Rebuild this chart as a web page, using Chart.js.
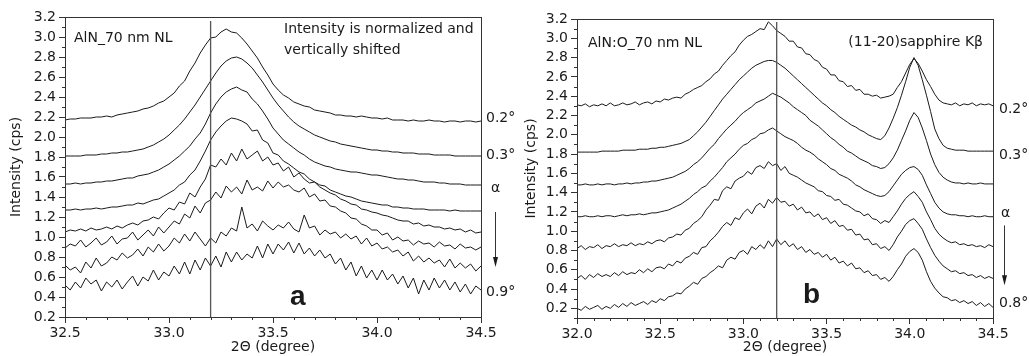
<!DOCTYPE html>
<html>
<head>
<meta charset="utf-8">
<script src="https://cdn.jsdelivr.net/npm/chart.js@4.4.0/dist/chart.umd.min.js"></script>
<style>
  html, body { margin: 0; padding: 0; background: #fff; }
  #wrap { position: relative; width: 1029px; height: 356px; }
  canvas { position: absolute; top: 0; }
</style>
</head>
<body>
<div id="wrap">
  <canvas id="chartA" width="515" height="356" style="left:0"></canvas>
  <canvas id="chartB" width="514" height="356" style="left:515px"></canvas>
</div>
<script>
// 2theta grid of the scans (degree)
const thetaA = [
  32.5,32.525,32.55,32.575,32.6,32.625,32.65,32.675,32.7,32.725,
  32.75,32.775,32.8,32.825,32.85,32.875,32.9,32.925,32.95,32.975,
  33.0,33.025,33.05,33.075,33.1,33.125,33.15,33.175,33.2,33.225,
  33.25,33.275,33.3,33.325,33.35,33.375,33.4,33.425,33.45,33.475,
  33.5,33.525,33.55,33.575,33.6,33.625,33.65,33.675,33.7,33.725,
  33.75,33.775,33.8,33.825,33.85,33.875,33.9,33.925,33.95,33.975,
  34.0,34.025,34.05,34.075,34.1,34.125,34.15,34.175,34.2,34.225,
  34.25,34.275,34.3,34.325,34.35,34.375,34.4,34.425,34.45,34.475,
  34.5
];
const thetaB = [
  32.0,32.025,32.05,32.075,32.1,32.125,32.15,32.175,32.2,32.225,
  32.25,32.275,32.3,32.325,32.35,32.375,32.4,32.425,32.45,32.475,
  32.5,32.525,32.55,32.575,32.6,32.625,32.65,32.675,32.7,32.725,
  32.75,32.775,32.8,32.825,32.85,32.875,32.9,32.925,32.95,32.975,
  33.0,33.025,33.05,33.075,33.1,33.125,33.15,33.175,33.2,33.225,
  33.25,33.275,33.3,33.325,33.35,33.375,33.4,33.425,33.45,33.475,
  33.5,33.525,33.55,33.575,33.6,33.625,33.65,33.675,33.7,33.725,
  33.75,33.775,33.8,33.825,33.85,33.875,33.9,33.925,33.95,33.975,
  34.0,34.025,34.05,34.075,34.1,34.125,34.15,34.175,34.2,34.225,
  34.25,34.275,34.3,34.325,34.35,34.375,34.4,34.425,34.45,34.475,
  34.5
];

// panel a: AlN_70 nm NL, incidence angle 0.2 .. 0.9 deg (normalized + shifted)
const a02 = [
  2.17,2.18,2.18,2.19,2.19,2.19,2.20,2.20,2.21,2.20,
  2.22,2.23,2.24,2.25,2.26,2.28,2.29,2.31,2.34,2.36,
  2.40,2.44,2.51,2.56,2.66,2.74,2.84,2.92,2.99,3.00,
  3.05,3.08,3.05,3.04,2.99,2.93,2.86,2.79,2.70,2.62,
  2.53,2.47,2.42,2.39,2.35,2.33,2.31,2.30,2.27,2.26,
  2.25,2.24,2.22,2.22,2.21,2.21,2.20,2.21,2.20,2.19,
  2.19,2.18,2.19,2.17,2.17,2.17,2.16,2.17,2.16,2.16,
  2.17,2.16,2.16,2.15,2.16,2.16,2.15,2.16,2.16,2.15,
  2.16
];
const a03 = [
  1.81,1.81,1.81,1.81,1.82,1.82,1.82,1.83,1.83,1.84,
  1.84,1.85,1.85,1.86,1.87,1.88,1.90,1.92,1.95,1.98,
  2.02,2.07,2.12,2.18,2.25,2.32,2.40,2.48,2.56,2.64,
  2.71,2.76,2.79,2.80,2.78,2.74,2.69,2.62,2.55,2.47,
  2.39,2.32,2.26,2.20,2.15,2.11,2.08,2.05,2.02,2.00,
  1.98,1.96,1.95,1.93,1.92,1.91,1.90,1.89,1.88,1.87,
  1.87,1.86,1.86,1.85,1.85,1.84,1.84,1.84,1.83,1.83,
  1.83,1.82,1.82,1.82,1.82,1.81,1.81,1.81,1.81,1.81,
  1.81
];
const a04 = [
  1.53,1.53,1.54,1.53,1.54,1.54,1.55,1.55,1.56,1.56,
  1.57,1.58,1.59,1.59,1.61,1.62,1.63,1.65,1.67,1.70,
  1.73,1.77,1.81,1.86,1.91,1.98,2.04,2.13,2.24,2.33,
  2.40,2.45,2.48,2.50,2.47,2.45,2.38,2.33,2.26,2.18,
  2.09,2.03,1.97,1.93,1.89,1.85,1.82,1.78,1.75,1.73,
  1.71,1.70,1.68,1.67,1.66,1.65,1.65,1.64,1.63,1.62,
  1.62,1.61,1.60,1.59,1.58,1.58,1.57,1.57,1.56,1.55,
  1.55,1.55,1.54,1.54,1.53,1.53,1.53,1.52,1.52,1.52,
  1.52
];
const a05 = [
  1.27,1.27,1.28,1.27,1.28,1.28,1.29,1.28,1.29,1.30,
  1.30,1.31,1.32,1.32,1.34,1.33,1.35,1.37,1.38,1.41,
  1.44,1.47,1.52,1.55,1.62,1.67,1.76,1.86,1.97,2.05,
  2.11,2.16,2.19,2.18,2.16,2.13,2.06,2.07,1.97,1.94,
  1.84,1.82,1.76,1.73,1.69,1.65,1.63,1.58,1.55,1.52,
  1.51,1.47,1.45,1.43,1.41,1.40,1.38,1.36,1.35,1.34,
  1.33,1.32,1.32,1.30,1.30,1.29,1.29,1.28,1.28,1.28,
  1.27,1.27,1.27,1.27,1.26,1.27,1.26,1.26,1.26,1.26,
  1.26
];
const a06 = [
  1.05,1.07,1.06,1.08,1.06,1.09,1.07,1.08,1.10,1.08,
  1.11,1.09,1.12,1.14,1.12,1.16,1.17,1.20,1.18,1.24,
  1.29,1.27,1.35,1.33,1.44,1.40,1.50,1.58,1.72,1.70,
  1.78,1.72,1.84,1.76,1.88,1.78,1.82,1.86,1.76,1.80,
  1.72,1.74,1.66,1.70,1.60,1.64,1.58,1.54,1.55,1.50,
  1.47,1.44,1.42,1.38,1.36,1.33,1.32,1.28,1.27,1.25,
  1.24,1.22,1.21,1.19,1.17,1.16,1.16,1.13,1.14,1.11,
  1.12,1.10,1.10,1.08,1.09,1.07,1.08,1.05,1.07,1.04,
  1.05
];
const a07 = [
  0.89,0.93,0.91,0.97,0.90,0.94,0.99,0.92,0.95,1.01,
  0.93,0.98,0.99,1.05,0.97,1.02,1.07,1.01,1.10,1.04,
  1.10,1.16,1.13,1.23,1.19,1.31,1.24,1.34,1.37,1.45,
  1.39,1.51,1.45,1.50,1.43,1.57,1.47,1.50,1.46,1.56,
  1.49,1.55,1.50,1.52,1.47,1.45,1.49,1.40,1.43,1.36,
  1.37,1.31,1.30,1.26,1.24,1.19,1.18,1.13,1.11,1.07,
  1.07,1.02,1.04,0.97,1.00,0.96,0.97,0.92,0.96,0.93,
  0.94,0.90,0.95,0.91,0.92,0.88,0.93,0.89,0.90,0.87,
  0.90
];
const a08 = [
  0.72,0.67,0.70,0.64,0.75,0.69,0.79,0.71,0.74,0.80,
  0.77,0.84,0.79,0.82,0.88,0.81,0.90,0.85,0.93,0.86,
  0.91,0.99,0.94,1.03,0.96,1.05,0.98,0.91,0.99,0.94,
  1.05,1.01,1.09,1.06,1.30,1.09,1.13,1.06,1.16,1.11,
  1.07,1.12,1.09,1.15,1.08,1.05,1.22,1.09,1.11,1.02,
  1.07,1.03,1.05,0.99,1.03,0.98,1.01,0.93,0.99,0.91,
  0.94,0.88,0.90,0.85,0.87,0.81,0.85,0.76,0.81,0.75,
  0.79,0.74,0.77,0.70,0.78,0.69,0.74,0.69,0.73,0.66,
  0.71
];
const a09 = [
  0.52,0.47,0.55,0.49,0.59,0.53,0.57,0.46,0.55,0.50,
  0.57,0.48,0.55,0.61,0.51,0.60,0.56,0.67,0.57,0.65,
  0.61,0.71,0.63,0.75,0.63,0.77,0.67,0.79,0.71,0.81,
  0.70,0.85,0.75,0.85,0.77,0.83,0.79,0.91,0.79,0.93,
  0.83,0.93,0.87,0.95,0.84,0.94,0.83,0.89,0.81,0.87,
  0.79,0.83,0.73,0.79,0.67,0.75,0.61,0.71,0.59,0.67,
  0.57,0.67,0.57,0.63,0.53,0.61,0.49,0.59,0.43,0.57,
  0.47,0.59,0.49,0.57,0.47,0.55,0.45,0.53,0.43,0.51,
  0.47
];

// panel b: AlN:O_70 nm NL, incidence angle 0.2 .. 0.8 deg
const b02 = [
  2.31,2.30,2.32,2.29,2.31,2.30,2.32,2.30,2.33,2.30,
  2.31,2.33,2.31,2.32,2.34,2.31,2.33,2.34,2.32,2.35,
  2.34,2.37,2.36,2.38,2.39,2.38,2.42,2.44,2.47,2.49,
  2.51,2.55,2.58,2.63,2.66,2.72,2.77,2.82,2.86,2.93,
  2.98,3.02,3.04,3.07,3.10,3.09,3.17,3.13,3.08,3.05,
  3.02,2.97,2.97,2.91,2.90,2.84,2.83,2.78,2.76,2.70,
  2.68,2.62,2.62,2.56,2.55,2.50,2.51,2.46,2.47,2.42,
  2.42,2.40,2.41,2.38,2.39,2.40,2.42,2.49,2.55,2.64,
  2.73,2.79,2.74,2.66,2.57,2.50,2.42,2.36,2.33,2.32,
  2.31,2.33,2.30,2.32,2.31,2.33,2.30,2.32,2.31,2.32,
  2.30
];
const b03 = [
  1.82,1.82,1.82,1.82,1.82,1.82,1.83,1.83,1.83,1.83,
  1.83,1.84,1.84,1.84,1.84,1.85,1.85,1.85,1.86,1.86,
  1.87,1.87,1.88,1.89,1.90,1.91,1.93,1.95,1.99,2.03,
  2.08,2.13,2.19,2.25,2.31,2.37,2.42,2.47,2.52,2.57,
  2.61,2.65,2.69,2.72,2.74,2.76,2.77,2.77,2.75,2.72,
  2.69,2.65,2.61,2.57,2.53,2.49,2.45,2.41,2.37,2.33,
  2.30,2.26,2.23,2.19,2.16,2.13,2.10,2.08,2.05,2.03,
  2.00,1.98,1.96,1.95,1.99,2.07,2.17,2.28,2.41,2.55,
  2.70,2.80,2.72,2.57,2.41,2.24,2.06,1.96,1.89,1.86,
  1.85,1.84,1.84,1.84,1.83,1.83,1.83,1.83,1.83,1.83,
  1.83
];
const b04 = [
  1.48,1.48,1.49,1.48,1.48,1.49,1.48,1.49,1.49,1.48,
  1.49,1.49,1.50,1.49,1.50,1.50,1.51,1.51,1.52,1.52,
  1.53,1.54,1.55,1.56,1.58,1.60,1.62,1.65,1.69,1.72,
  1.76,1.81,1.86,1.90,1.96,2.01,2.06,2.10,2.14,2.19,
  2.23,2.26,2.29,2.33,2.35,2.37,2.40,2.43,2.41,2.39,
  2.36,2.33,2.29,2.26,2.23,2.20,2.15,2.12,2.09,2.05,
  2.01,1.97,1.94,1.90,1.87,1.83,1.81,1.78,1.75,1.73,
  1.71,1.68,1.67,1.65,1.66,1.70,1.76,1.84,1.94,2.04,
  2.15,2.23,2.18,2.07,1.94,1.80,1.69,1.61,1.56,1.53,
  1.51,1.50,1.50,1.49,1.50,1.49,1.49,1.50,1.49,1.49,
  1.49
];
const b05 = [
  1.15,1.15,1.16,1.15,1.15,1.16,1.15,1.16,1.16,1.15,
  1.16,1.17,1.16,1.17,1.17,1.18,1.17,1.18,1.19,1.19,
  1.20,1.21,1.22,1.24,1.26,1.28,1.31,1.34,1.38,1.41,
  1.45,1.47,1.52,1.56,1.61,1.66,1.72,1.76,1.80,1.85,
  1.89,1.91,1.95,1.97,2.01,2.02,2.05,2.07,2.04,2.01,
  1.98,1.96,1.94,1.91,1.87,1.84,1.82,1.79,1.75,1.72,
  1.69,1.65,1.63,1.59,1.57,1.55,1.52,1.48,1.46,1.43,
  1.41,1.39,1.37,1.36,1.37,1.41,1.47,1.53,1.59,1.63,
  1.66,1.67,1.64,1.58,1.48,1.39,1.30,1.24,1.20,1.18,
  1.17,1.17,1.16,1.16,1.15,1.16,1.15,1.15,1.16,1.15,
  1.15
];
const b06 = [
  0.82,0.85,0.81,0.84,0.83,0.86,0.82,0.85,0.84,0.87,
  0.84,0.86,0.85,0.88,0.85,0.87,0.86,0.89,0.87,0.90,
  0.91,0.89,0.93,0.94,0.97,0.96,1.01,1.03,1.08,1.11,
  1.15,1.22,1.27,1.33,1.32,1.42,1.46,1.44,1.52,1.55,
  1.57,1.62,1.59,1.66,1.68,1.65,1.72,1.68,1.70,1.63,
  1.67,1.60,1.58,1.56,1.53,1.50,1.48,1.46,1.42,1.41,
  1.37,1.36,1.32,1.33,1.28,1.27,1.24,1.21,1.20,1.16,
  1.18,1.13,1.12,1.08,1.11,1.09,1.15,1.21,1.28,1.34,
  1.38,1.41,1.36,1.30,1.20,1.12,1.03,0.97,0.93,0.90,
  0.88,0.89,0.86,0.87,0.85,0.86,0.84,0.85,0.83,0.86,
  0.84
];
const b07 = [
  0.51,0.54,0.50,0.55,0.52,0.56,0.53,0.55,0.53,0.57,
  0.54,0.58,0.55,0.57,0.56,0.60,0.57,0.61,0.58,0.62,
  0.63,0.61,0.66,0.64,0.69,0.67,0.72,0.74,0.78,0.76,
  0.83,0.84,0.90,0.94,0.99,1.05,1.09,1.06,1.14,1.12,
  1.19,1.23,1.18,1.26,1.29,1.24,1.33,1.29,1.35,1.30,
  1.31,1.26,1.28,1.22,1.25,1.19,1.20,1.15,1.18,1.12,
  1.14,1.08,1.11,1.05,1.06,1.01,1.02,0.96,0.97,0.91,
  0.92,0.86,0.87,0.82,0.84,0.80,0.86,0.94,1.00,1.07,
  1.11,1.13,1.08,1.02,0.92,0.83,0.75,0.69,0.64,0.61,
  0.58,0.59,0.56,0.57,0.54,0.55,0.52,0.54,0.51,0.53,
  0.51
];
const b08 = [
  0.20,0.18,0.22,0.19,0.21,0.23,0.19,0.22,0.20,0.24,
  0.21,0.25,0.22,0.26,0.23,0.25,0.27,0.24,0.28,0.26,
  0.30,0.28,0.32,0.33,0.36,0.35,0.40,0.43,0.47,0.45,
  0.51,0.53,0.57,0.60,0.64,0.62,0.70,0.73,0.71,0.78,
  0.80,0.76,0.84,0.81,0.86,0.82,0.90,0.84,0.92,0.86,
  0.90,0.84,0.87,0.81,0.84,0.78,0.81,0.76,0.78,0.73,
  0.76,0.70,0.73,0.67,0.69,0.64,0.67,0.61,0.62,0.57,
  0.59,0.54,0.55,0.50,0.52,0.48,0.53,0.60,0.66,0.74,
  0.79,0.82,0.78,0.70,0.58,0.48,0.41,0.36,0.32,0.31,
  0.28,0.29,0.26,0.28,0.25,0.27,0.23,0.26,0.22,0.25,
  0.21
];

const seriesA = [a02, a03, a04, a05, a06, a07, a08, a09];
const seriesB = [b02, b03, b04, b05, b06, b07, b08];
const markTheta = 33.2;   // vertical marker line

const FONT = 'DejaVu Sans';
const INK = '#1a1a1a';

function isMajor(v, step) {
  const r = v / step;
  return Math.abs(r - Math.round(r)) < 1e-6;
}

// frame, minor ticks, in-plot notes, angle labels and the alpha arrow
const decor = {
  id: 'decor',
  afterDraw(chart, args, o) {
    const { ctx, chartArea: a, scales: { x, y } } = chart;
    const L = Math.round(a.left), R = Math.round(a.right);
    const T = Math.round(a.top), B = Math.round(a.bottom);
    ctx.save();
    ctx.strokeStyle = '#333';
    ctx.lineWidth = 1;
    ctx.strokeRect(L + 0.5, T + 0.5, R - L, B - T);

    ctx.beginPath();
    x.ticks.forEach(t => {
      if (isMajor(t.value, 0.5)) return;
      const px = Math.round(x.getPixelForValue(t.value)) + 0.5;
      ctx.moveTo(px, B); ctx.lineTo(px, B + 3);
    });
    y.ticks.forEach(t => {
      if (isMajor(t.value, 0.2)) return;
      const py = Math.round(y.getPixelForValue(t.value)) + 0.5;
      ctx.moveTo(L - 3, py); ctx.lineTo(L, py);
    });
    ctx.stroke();

    ctx.fillStyle = INK;
    o.notes.forEach(n => {
      ctx.font = n.font || `14px "${FONT}"`;
      ctx.textAlign = n.align || 'left';
      ctx.textBaseline = n.baseline || 'middle';
      ctx.fillText(n.text, L + n.dx, T + n.dy);
    });

    ctx.font = `14px "${FONT}"`;
    ctx.textAlign = 'left';
    ctx.textBaseline = 'middle';
    o.side.forEach(s => {
      ctx.fillText(s.text, R + (s.dx || o.sideDx), y.getPixelForValue(s.v));
    });

    const ax = R + o.arrow.dx + 0.5;
    const y1 = y.getPixelForValue(o.arrow.from);
    const y2 = y.getPixelForValue(o.arrow.to);
    ctx.beginPath();
    ctx.moveTo(ax, y1); ctx.lineTo(ax, y2 - 8);
    ctx.stroke();
    ctx.beginPath();
    ctx.moveTo(ax - 2.5, y2 - 10); ctx.lineTo(ax + 2.5, y2 - 10); ctx.lineTo(ax, y2);
    ctx.closePath();
    ctx.fill();
    ctx.restore();
  }
};

function buildChart(id, cfg) {
  const datasets = [{
    data: [{ x: markTheta, y: cfg.yMin }, { x: markTheta, y: cfg.markTop }],
    borderColor: '#555', borderWidth: 1.3
  }];
  cfg.series.forEach(s => {
    datasets.push({
      data: s.map((v, i) => ({ x: cfg.theta[i], y: v })),
      borderColor: INK, borderWidth: 1
    });
  });

  const tickFont = { family: FONT, size: 14 };
  return new Chart(document.getElementById(id), {
    type: 'line',
    data: { datasets },
    options: {
      responsive: false,
      animation: false,
      events: [],
      elements: { point: { radius: 0 }, line: { tension: 0 } },
      layout: { padding: { left: 0, top: cfg.top, right: cfg.right, bottom: 0 } },
      plugins: {
        legend: { display: false },
        tooltip: { enabled: false },
        decor: cfg.decor
      },
      scales: {
        x: {
          type: 'linear',
          min: cfg.xMin, max: 34.5,
          afterFit: s => { s.height = cfg.xAxisH; },
          border: { display: false },
          grid: {
            drawOnChartArea: false, tickLength: 6,
            tickColor: c => isMajor(c.tick.value, 0.5) ? '#333' : 'rgba(0,0,0,0)'
          },
          ticks: {
            stepSize: 0.1, autoSkip: false, maxRotation: 0, padding: 2,
            color: INK, font: tickFont,
            callback: v => isMajor(v, 0.5) ? v.toFixed(1) : ''
          },
          title: {
            display: true, text: '2Θ (degree)', color: INK,
            font: { family: FONT, size: 14 }, padding: { top: 0, bottom: 0 }
          }
        },
        y: {
          min: cfg.yMin, max: 3.2,
          afterFit: s => { s.width = cfg.yAxisW; },
          border: { display: false },
          grid: {
            drawOnChartArea: false, tickLength: 6,
            tickColor: c => isMajor(c.tick.value, 0.2) ? '#333' : 'rgba(0,0,0,0)'
          },
          ticks: {
            stepSize: 0.1, autoSkip: false, padding: 3,
            color: INK, font: tickFont,
            callback: v => isMajor(v, 0.2) ? v.toFixed(1) : ''
          },
          title: {
            display: true, text: 'Intensity (cps)', color: INK,
            font: { family: FONT, size: 14 }, padding: { top: 8, bottom: 0 }
          }
        }
      }
    },
    plugins: [decor]
  });
}

buildChart('chartA', {
  theta: thetaA, series: seriesA,
  xMin: 32.5, yMin: 0.2, markTop: 3.16,
  top: 17, right: 34, xAxisH: 39, yAxisW: 65,
  decor: {
    notes: [
      { text: 'AlN_70 nm NL', dx: 9, dy: 21 },
      { text: 'Intensity is normalized and', dx: 219, dy: 12 },
      { text: 'vertically shifted', dx: 219, dy: 33 },
      { text: 'a', dx: 225, dy: 288, baseline: 'alphabetic', font: 'bold 28px "Liberation Sans"' }
    ],
    sideDx: 5,
    side: [
      { text: '0.2°', v: 2.19 },
      { text: '0.3°', v: 1.82 },
      { text: 'α', v: 1.49, dx: 10 },
      { text: '0.9°', v: 0.45 }
    ],
    arrow: { dx: 14, from: 1.25, to: 0.70 }
  }
});

buildChart('chartB', {
  theta: thetaB, series: seriesB,
  xMin: 32.0, yMin: 0.1, markTop: 3.17,
  top: 19, right: 36, xAxisH: 38, yAxisW: 62,
  decor: {
    notes: [
      { text: 'AlN:O_70 nm NL', dx: 11, dy: 24 },
      { text: '(11-20)sapphire Kβ', dx: 406, dy: 23, align: 'right' },
      { text: 'b', dx: 226, dy: 284, baseline: 'alphabetic', font: 'bold 28px "Liberation Sans"' }
    ],
    sideDx: 6,
    side: [
      { text: '0.2°', v: 2.26 },
      { text: '0.3°', v: 1.79 },
      { text: 'α', v: 1.19, dx: 8 },
      { text: '0.8°', v: 0.25 }
    ],
    arrow: { dx: 11, from: 1.06, to: 0.44 }
  }
});
</script>
</body>
</html>
